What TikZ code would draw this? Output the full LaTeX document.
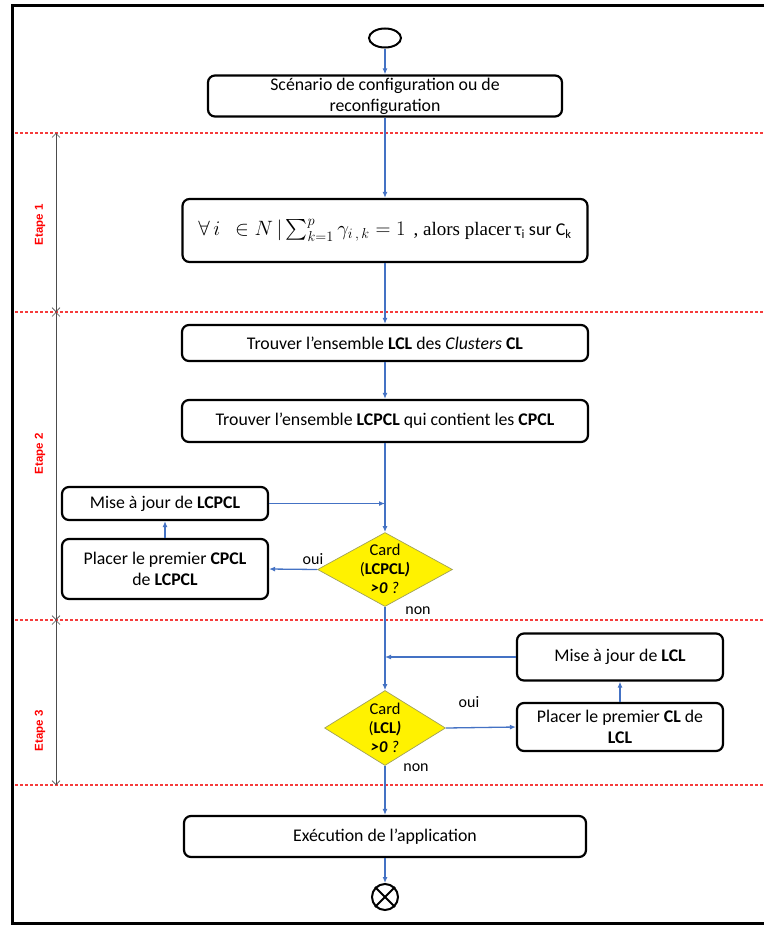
\documentclass[tikz,border=0pt]{standalone}
\usepackage{amsmath}
\usepackage[no-math]{fontspec}
\setmainfont{Carlito}
\newfontfamily\serifcamb{Liberation Serif}
\newfontfamily\etapefont{Liberation Sans}
\usetikzlibrary{arrows.meta,shapes.geometric}
\definecolor{flowblue}{RGB}{68,114,196}
\definecolor{dashred}{RGB}{245,60,60}
\definecolor{diaborder}{RGB}{160,160,90}
\begin{document}
\begin{tikzpicture}[x=1pt,y=-1pt,
  box/.style={draw=black,line width=2.2pt,rounded corners=7pt,fill=white,align=center,inner sep=2pt,
    font=\fontsize{17.8}{21}\selectfont},
  dia/.style={shape=diamond,draw=diaborder,line width=0.7pt,fill=yellow,inner sep=0pt},
  diatext/.style={align=center,inner sep=0pt,font=\fontsize{16.5}{19}\selectfont},
  arr/.style={draw=flowblue,line width=1.3pt,-{Latex[length=6pt,width=5pt]}},
  sep/.style={draw=dashred,line width=1.1pt,dash pattern=on 3pt off 2pt},
  meas/.style={draw=black!70,line width=0.7pt,{Straight Barb[length=4pt,width=8pt]}-{Straight Barb[length=4pt,width=8pt]}},
  etape/.style={text=red,font=\etapefont\bfseries\fontsize{11.5}{12}\selectfont,rotate=90,inner sep=0pt},
  lbl/.style={font=\fontsize{16}{18}\selectfont,inner sep=0pt}
]
\useasboundingbox (0,0) rectangle (764,926);

% frame
\draw[line width=3pt] (764,5.5) -- (12.5,5.5) -- (12.5,923.5) -- (764,923.5);

% separators
\draw[sep] (15,133) -- (764,133);
\draw[sep] (15,312) -- (764,312);
\draw[sep] (15,620) -- (764,620);
\draw[sep] (15,785) -- (764,785);

% measurement arrows
\coordinate (m0) at (56,133);
\coordinate (m1) at (56,312);
\coordinate (m2) at (56,620);
\coordinate (m3) at (56,785);
\draw[meas] (m0) -- (m1);
\draw[meas] (m1) -- (m2);
\draw[meas] (m2) -- (m3);
\node[etape] (e1) at (40,225) {Etape 1};
\node[etape] (e2) at (40,454) {Etape 2};
\node[etape] (e3) at (40,731) {Etape 3};

% nodes
\node[ellipse,draw=black,line width=2pt,minimum width=32pt,minimum height=19pt,inner sep=0pt] (start) at (385,38) {};
\node[box,minimum width=354pt,minimum height=41pt] (b1) at (385,96) {Scénario de configuration ou de\\reconfiguration};
\node[box,minimum width=405pt,minimum height=63pt] (b2) at (385,230.5)
  {\fontsize{20}{24}\selectfont$\forall\,i\ \ \in N\,|\textstyle\sum_{k=1}^{p}\gamma_{i\,,\,k}=1$\ \,{\serifcamb\fontsize{19}{24}\selectfont , alors placer}\,{\fontsize{18}{24}\selectfont τ\textsubscript{i} sur C\textsubscript{k}}};
\node[box,minimum width=406pt,minimum height=36pt] (b3) at (385,343) {Trouver l’ensemble \textbf{LCL} des \textit{Clusters} \textbf{CL}};
\node[box,minimum width=406pt,minimum height=42pt] (b4) at (385,421) {Trouver l’ensemble \textbf{LCPCL} qui contient les \textbf{CPCL}};
\node[box,minimum width=206pt,minimum height=33pt] (b5) at (165,503.5) {Mise à jour de \textbf{LCPCL}};
\node[box,minimum width=206pt,minimum height=60pt] (b6) at (165,569) {Placer le premier \textbf{CPCL}\\de \textbf{LCPCL}};
\node[dia,minimum width=135pt,minimum height=74pt] (d1) at (385,569.5) {};
\node[diatext] (d1t) at (385,569) {Card\\(\textbf{LCPCL\textit{)}}\\\textbf{\textit{>0}} \textit{?}};
\node[box,minimum width=206pt,minimum height=47pt] (b7) at (620,657) {Mise à jour de \textbf{LCL}};
\node[box,minimum width=206pt,minimum height=48pt] (b8) at (620,727) {Placer le premier \textbf{CL} de\\\textbf{LCL}};
\node[dia,minimum width=121pt,minimum height=75pt] (d2) at (385,728) {};
\node[diatext] (d2t) at (385,728) {Card\\(\textbf{LCL\textit{)}}\\\textbf{\textit{>0}} \textit{?}};
\node[box,minimum width=402pt,minimum height=41pt] (b9) at (385,836.5) {Exécution de l’application};
\node[circle,draw=black,line width=2pt,minimum size=26pt,inner sep=0pt] (end) at (385,897) {};
\draw[line width=2pt] (end.north west) -- (end.south east);
\draw[line width=2pt] (end.north east) -- (end.south west);

% junction coordinates
\coordinate (j1) at (385,503.5);
\coordinate (j2) at (385,657);

% connectors
\draw[arr] (start.south) -- (b1.north);
\draw[arr] (b1.south) -- (b2.north);
\draw[arr] (b2.south) -- (b3.north);
\draw[arr] (b3.south) -- (b4.north);
\draw[arr] (b4.south) -- (d1.north);
\draw[arr] (b5.east) -- (j1);
\draw[arr] (d1.west) -- (b6.east);
\draw[arr] (b6.north) -- (b5.south);
\draw[arr] (d1.south) -- (d2.north);
\draw[arr] (b7.west) -- (j2);
\draw[arr] (d2.east) -- (b8.west);
\draw[arr] (b8.north) -- (b7.south);
\draw[arr] (d2.south) -- (b9.north);
\draw[arr] (b9.south) -- (end.north);

% labels
\node[lbl] (oui1) at (313,559) {oui};
\node[lbl] (non1) at (418,611) {non};
\node[lbl] (oui2) at (469,702) {oui};
\node[lbl] (non2) at (416,768) {non};
\end{tikzpicture}
\end{document}
